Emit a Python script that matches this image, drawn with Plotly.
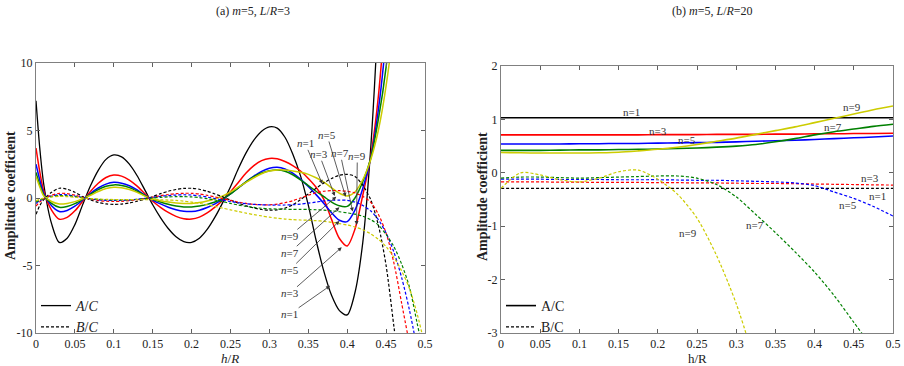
import plotly.graph_objects as go

# ---------------- data ----------------
# left panel (a): sampling positions of h/R
H_A = [0.0, 0.005] + [round(0.01 * k, 2) for k in range(1, 51)]

# A/C (solid), n = 1,3,5,7,9
A_N1 = [7.2, 3.6, 1.0, -1.9, -3.29, -2.98, -1.97, -0.49, 0.9, 2.05, 2.86, 3.19, 3.05, 2.51, 1.65, 0.58,
        -0.5, -1.45, -2.26, -2.87, -3.23, -3.28, -2.98, -2.33, -1.42, -0.34, 0.83, 2.16, 3.34, 4.29, 4.95,
        5.27, 5.18, 4.5, 3.26, 1.64, -0.53, -3.13, -5.44, -7.23, -8.34, -8.66, -7.0, -3.3, 3.5, 14, 30]
A_N3 = [3.7, 1.9, 0.5, -0.9, -1.57, -1.43, -0.95, -0.24, 0.48, 1.09, 1.52, 1.7, 1.62, 1.33, 0.88, 0.31,
        -0.24, -0.69, -1.07, -1.36, -1.53, -1.56, -1.42, -1.11, -0.68, -0.16, 0.47, 1.15, 1.85, 2.4, 2.77,
        2.93, 2.9, 2.7, 2.4, 2.0, 1.45, 0.8, -0.1, -1.6, -3.0, -3.55, -2.3, 0.2, 3.0, 7.5, 15, 27]
A_N5 = [2.5, 1.3, 0.33, -0.58, -1.0, -0.92, -0.61, -0.15, 0.33, 0.74, 1.03, 1.16, 1.1, 0.91, 0.6, 0.21,
        -0.15, -0.44, -0.68, -0.87, -0.98, -1.0, -0.9, -0.7, -0.43, -0.1, 0.3, 0.75, 1.2, 1.62, 1.97,
        2.2, 2.27, 2.15, 1.85, 1.4, 0.85, 0.25, -0.4, -1.1, -1.65, -1.75, -0.9, 0.7, 2.9, 6.5, 12, 21]
A_N7 = [1.9, 0.95, 0.22, -0.4, -0.69, -0.63, -0.42, -0.1, 0.27, 0.62, 0.87, 0.97, 0.93, 0.77, 0.5, 0.18,
        -0.1, -0.3, -0.47, -0.59, -0.66, -0.67, -0.6, -0.47, -0.29, -0.07, 0.3, 0.75, 1.2, 1.58, 1.85,
        2.02, 2.07, 1.98, 1.72, 1.35, 0.92, 0.5, 0.1, -0.3, -0.58, -0.62, 0.0, 1.2, 2.9, 5.8, 9.7, 16, 26]
A_N9 = [1.6, 0.8, 0.15, -0.26, -0.44, -0.4, -0.27, -0.06, 0.2, 0.48, 0.7, 0.79, 0.76, 0.63, 0.42, 0.14,
        -0.06, -0.2, -0.3, -0.37, -0.4, -0.4, -0.34, -0.22, -0.05, 0.15, 0.45, 0.8, 1.15, 1.5, 1.8,
        2.0, 2.08, 2.07, 2.0, 1.9, 1.75, 1.5, 1.18, 0.75, 0.35, 0.15, 0.45, 1.35, 2.8, 5.0, 8.3, 13, 20, 30]

# B/C (dashed), n = 1,3,5,7,9
B_N1 = [-1.2, -0.55, -0.12, 0.42, 0.72, 0.65, 0.43, 0.1, -0.14, -0.32, -0.44, -0.47, -0.45, -0.37, -0.24,
        -0.08, 0.1, 0.32, 0.5, 0.63, 0.71, 0.72, 0.65, 0.5, 0.3, 0.08, -0.15, -0.38, -0.58, -0.74, -0.85,
        -0.9, -0.88, -0.75, -0.5, -0.12, 0.3, 0.72, 1.12, 1.45, 1.68, 1.75, 1.6, 0.95, -0.1, -2.0, -5.0,
        -9.5, -14]
B_N3 = [-0.6, -0.28, -0.06, 0.2, 0.35, 0.32, 0.21, 0.05, -0.08, -0.18, -0.24, -0.26, -0.25, -0.2, -0.13,
        -0.04, 0.06, 0.17, 0.26, 0.32, 0.35, 0.35, 0.3, 0.2, 0.08, -0.05, -0.18, -0.3, -0.4, -0.47, -0.5,
        -0.5, -0.45, -0.35, -0.2, 0.0, 0.2, 0.38, 0.5, 0.55, 0.55, 0.5, 0.38, 0.12, -0.3, -1.2, -2.6,
        -4.8, -7.8, -10.8]
B_N5 = [-0.4, -0.2, -0.04, 0.14, 0.25, 0.23, 0.15, 0.04, -0.06, -0.13, -0.17, -0.18, -0.18, -0.15, -0.1,
        -0.03, 0.04, 0.12, 0.18, 0.22, 0.24, 0.22, 0.16, 0.07, -0.04, -0.15, -0.26, -0.35, -0.42, -0.47,
        -0.5, -0.52, -0.52, -0.52, -0.5, -0.45, -0.38, -0.3, -0.22, -0.17, -0.15, -0.17, -0.3, -0.55,
        -0.95, -1.6, -2.6, -4.0, -5.9, -8.3, -11.2]
B_N7 = [-0.3, -0.15, -0.03, 0.1, 0.18, 0.16, 0.1, 0.02, -0.05, -0.1, -0.13, -0.14, -0.14, -0.13, -0.1,
        -0.05, 0.0, 0.05, 0.08, 0.1, 0.1, 0.08, 0.03, -0.05, -0.15, -0.27, -0.4, -0.52, -0.62, -0.7, -0.76,
        -0.8, -0.82, -0.83, -0.84, -0.84, -0.85, -0.87, -0.9, -0.95, -1.02, -1.1, -1.2, -1.35, -1.6, -2.0,
        -2.7, -3.6, -4.9, -6.6, -9.3, -12.0]
B_N9 = [-0.2, -0.1, 0.0, 0.08, 0.12, 0.1, 0.06, 0.0, -0.05, -0.08, -0.1, -0.11, -0.12, -0.12, -0.12,
        -0.12, -0.12, -0.13, -0.15, -0.18, -0.23, -0.3, -0.4, -0.5, -0.62, -0.75, -0.88, -1.0, -1.12,
        -1.23, -1.33, -1.42, -1.5, -1.56, -1.6, -1.63, -1.65, -1.68, -1.72, -1.8, -1.9, -2.0, -2.15, -2.35,
        -2.65, -3.05, -3.6, -4.4, -5.4, -6.7, -8.6, -11.0]

# right panel (b)
H_B = [round(0.025 * k, 3) for k in range(0, 21)]
RA_N1 = [1.03, 1.03, 1.03, 1.03, 1.03, 1.03, 1.03, 1.03, 1.03, 1.03, 1.03, 1.03, 1.03, 1.03, 1.03,
         1.03, 1.03, 1.03, 1.03, 1.03, 1.03]
RA_N3 = [0.71, 0.71, 0.71, 0.71, 0.71, 0.71, 0.71, 0.71, 0.715, 0.715, 0.715, 0.72, 0.72, 0.72, 0.725,
         0.725, 0.73, 0.73, 0.735, 0.735, 0.74]
RA_N5 = [0.54, 0.54, 0.54, 0.54, 0.545, 0.545, 0.55, 0.55, 0.555, 0.56, 0.565, 0.57, 0.58, 0.59, 0.60,
         0.61, 0.625, 0.64, 0.655, 0.67, 0.69]
RA_N7 = [0.42, 0.42, 0.42, 0.425, 0.43, 0.43, 0.435, 0.44, 0.445, 0.455, 0.465, 0.48, 0.5, 0.53, 0.58,
         0.64, 0.71, 0.77, 0.82, 0.87, 0.91]
RA_N9 = [0.38, 0.375, 0.37, 0.37, 0.37, 0.375, 0.385, 0.41, 0.44, 0.48, 0.53, 0.59, 0.65, 0.72, 0.79,
         0.86, 0.94, 1.02, 1.1, 1.18, 1.25]
RB_N1 = [-0.29, -0.29, -0.29, -0.29, -0.29, -0.29, -0.29, -0.29, -0.29, -0.29, -0.29, -0.29, -0.29,
         -0.29, -0.29, -0.29, -0.29, -0.29, -0.29, -0.29, -0.29]
RB_N3 = [-0.17, -0.17, -0.17, -0.175, -0.175, -0.18, -0.18, -0.18, -0.185, -0.185, -0.19, -0.19, -0.195,
         -0.2, -0.2, -0.205, -0.21, -0.215, -0.22, -0.225, -0.23]
RB_N5 = [-0.12, -0.12, -0.12, -0.125, -0.125, -0.125, -0.13, -0.13, -0.13, -0.135, -0.14, -0.14, -0.15,
         -0.16, -0.17, -0.19, -0.24, -0.36, -0.48, -0.63, -0.81]
RB_N7 = [-0.1, -0.08, -0.08, -0.09, -0.1, -0.09, -0.08, -0.07, -0.06, -0.06, -0.1, -0.22, -0.45, -0.78,
         -1.12, -1.48, -1.86, -2.3, -2.8, -3.3]
RB_N9 = [-0.29, 0.0, -0.04, -0.13, -0.17, -0.1, 0.02, 0.05, -0.12, -0.4, -0.85, -1.55, -2.45, -3.6]

N_LABELS = ["n=1", "n=3", "n=5", "n=7", "n=9"]
X_TICKS = [0, 0.05, 0.1, 0.15, 0.2, 0.25, 0.3, 0.35, 0.4, 0.45, 0.5]
X_TICKTEXT = ["0", "0.05", "0.1", "0.15", "0.2", "0.25", "0.3", "0.35", "0.4", "0.45", "0.5"]
Y_TICKS_A = [-10, -5, 0, 5, 10]
Y_TICKTEXT_A = ["-10", "-5", "0", "5", "10"]
Y_TICKS_B = [-3, -2, -1, 0, 1, 2]
Y_TICKTEXT_B = ["-3", "-2", "-1", "0", "1", "2"]

# ---------------- style ----------------
COLORS = ["#000000", "#ff0000", "#0000ff", "#008000", "#cccc00"]
SERIF = "Liberation Serif, Times New Roman, serif"
DASH = "3px,2px"

fig = go.Figure()

A_LEFT = [A_N1, A_N3, A_N5, A_N7, A_N9]
B_LEFT = [B_N1, B_N3, B_N5, B_N7, B_N9]
A_RIGHT = [RA_N1, RA_N3, RA_N5, RA_N7, RA_N9]
B_RIGHT = [RB_N1, RB_N3, RB_N5, RB_N7, RB_N9]

for i, (vals, col) in enumerate(zip(A_LEFT, COLORS)):
    fig.add_trace(go.Scatter(x=H_A[:len(vals)], y=vals, mode="lines", xaxis="x", yaxis="y",
                             line=dict(color=col, width=1.3 if i == 0 else 1.5, shape="spline", smoothing=0.8),
                             name="<i>A</i>/<i>C</i>", showlegend=(i == 0), legend="legend"))
for i, (vals, col) in enumerate(zip(B_LEFT, COLORS)):
    fig.add_trace(go.Scatter(x=H_A[:len(vals)], y=vals, mode="lines", xaxis="x", yaxis="y",
                             line=dict(color=col, width=1.2, dash=DASH, shape="spline", smoothing=0.8),
                             name="<i>B</i>/<i>C</i>", showlegend=(i == 0), legend="legend"))
for i, (vals, col) in enumerate(zip(A_RIGHT, COLORS)):
    fig.add_trace(go.Scatter(x=H_B[:len(vals)], y=vals, mode="lines", xaxis="x2", yaxis="y2",
                             line=dict(color=col, width=1.6, shape="spline", smoothing=0.8),
                             name="A/C", showlegend=(i == 0), legend="legend2"))
for i, (vals, col) in enumerate(zip(B_RIGHT, COLORS)):
    fig.add_trace(go.Scatter(x=H_B[:len(vals)], y=vals, mode="lines", xaxis="x2", yaxis="y2",
                             line=dict(color=col, width=1.2, dash=DASH, shape="spline", smoothing=0.8),
                             name="B/C", showlegend=(i == 0), legend="legend2"))

axis_common = dict(showline=True, linecolor="#808080", linewidth=1, mirror="ticks", ticks="inside",
                   ticklen=4, tickcolor="#606060", showgrid=False, zeroline=False, automargin=False,
                   tickfont=dict(family=SERIF, size=12, color="#222"))

annotations = []
LABEL_FONT = dict(family=SERIF, size=11, color="#333")

# arrow labels, panel (a)
UP_TEXT_POS = [(0.346, 4.05), (0.364, 3.24), (0.374, 4.67), (0.391, 3.31), (0.413, 3.11)]
UP_TIPS = [(0.368, 1.04), (0.384, 0.15), (0.398, 0.1), (0.407, -1.0), (0.412, -2.0)]
LOW_TEXT_POS = [(0.326, -8.6), (0.326, -7.06), (0.326, -5.33), (0.326, -4.05), (0.326, -2.81)]
LOW_TIPS = [(0.378, -6.5), (0.393, -3.65), (0.39, -1.7), (0.39, -0.69), (0.386, 0.1)]
for group_text, group_tip in ((UP_TEXT_POS, UP_TIPS), (LOW_TEXT_POS, LOW_TIPS)):
    for lab, (tx, ty), (px, py) in zip(N_LABELS, group_text, group_tip):
        annotations.append(dict(x=px, y=py, ax=tx, ay=ty, xref="x", yref="y", axref="x", ayref="y",
                                text="<i>n</i>=" + lab[2:], showarrow=True, arrowhead=2, arrowsize=1,
                                arrowwidth=0.8, arrowcolor="#333", standoff=0, startstandoff=0,
                                borderpad=0, font=LABEL_FONT))

# labels, panel (b)
RIGHT_LABELS = [("n=1", 0.167, 1.14), ("n=3", 0.2, 0.78), ("n=5", 0.237, 0.61), ("n=9", 0.448, 1.23),
                ("n=7", 0.424, 0.86), ("n=3", 0.471, -0.1), ("n=1", 0.48, -0.43), ("n=5", 0.443, -0.6),
                ("n=7", 0.324, -0.98), ("n=9", 0.239, -1.13)]
for t, x, y in RIGHT_LABELS:
    annotations.append(dict(x=x, y=y, xref="x2", yref="y2", text=t, showarrow=False,
                            xanchor="center", yanchor="middle", font=LABEL_FONT))

# titles and axis titles (pixel positions converted to paper fractions)
W, H = 904, 366
TXT = dict(family=SERIF, color="#222")
annotations += [
    dict(x=253 / W, y=1 - 11 / H, text="(a) <i>m</i>=5, <i>L</i>/<i>R</i>=3", font=dict(size=12, **TXT)),
    dict(x=712 / W, y=1 - 11 / H, text="(b) <i>m</i>=5, <i>L</i>/<i>R</i>=20", font=dict(size=12, **TXT)),
    dict(x=230 / W, y=1 - 358 / H, text="<i>h</i>/<i>R</i>", font=dict(size=13, **TXT)),
    dict(x=697 / W, y=1 - 358 / H, text="h/R", font=dict(size=13, **TXT)),
    dict(x=10 / W, y=1 - 196 / H, textangle=-90, text="<b>Amplitude coefficient</b>", font=dict(size=14, **TXT)),
    dict(x=482 / W, y=1 - 197 / H, textangle=-90, text="<b>Amplitude coefficient</b>", font=dict(size=14, **TXT)),
]
for a in annotations[-6:]:
    a.update(xref="paper", yref="paper", showarrow=False, xanchor="center", yanchor="middle")

legend_common = dict(bgcolor="rgba(0,0,0,0)", borderwidth=0, itemwidth=30, tracegroupgap=0,
                     font=dict(family=SERIF, size=14, color="#222"), xanchor="left", yanchor="top",
                     orientation="v")

fig.update_layout(
    width=W, height=H, margin=dict(l=0, r=0, t=0, b=0, pad=0), autosize=False,
    paper_bgcolor="white", plot_bgcolor="white",
    xaxis=dict(domain=[36 / W, 425 / W], range=[0, 0.5], tickvals=X_TICKS, ticktext=X_TICKTEXT,
               anchor="y", **axis_common),
    yaxis=dict(domain=[1 - 333 / H, 1 - 63 / H], range=[-10, 10], tickvals=Y_TICKS_A,
               ticktext=Y_TICKTEXT_A, anchor="x", **axis_common),
    xaxis2=dict(domain=[501 / W, 893 / W], range=[0, 0.5], tickvals=X_TICKS, ticktext=X_TICKTEXT,
                anchor="y2", **axis_common),
    yaxis2=dict(domain=[1 - 333 / H, 1 - 66 / H], range=[-3, 2], tickvals=Y_TICKS_B,
                ticktext=Y_TICKTEXT_B, anchor="x2", **axis_common),
    legend=dict(x=36 / W, y=1 - 290 / H, **legend_common),
    legend2=dict(x=501 / W, y=1 - 290 / H, **legend_common),
    annotations=annotations,
    showlegend=True,
)

fig.write_html("out.html", config={"displayModeBar": False},
               post_script="document.body.style.margin='0';document.body.style.overflow='hidden';")
